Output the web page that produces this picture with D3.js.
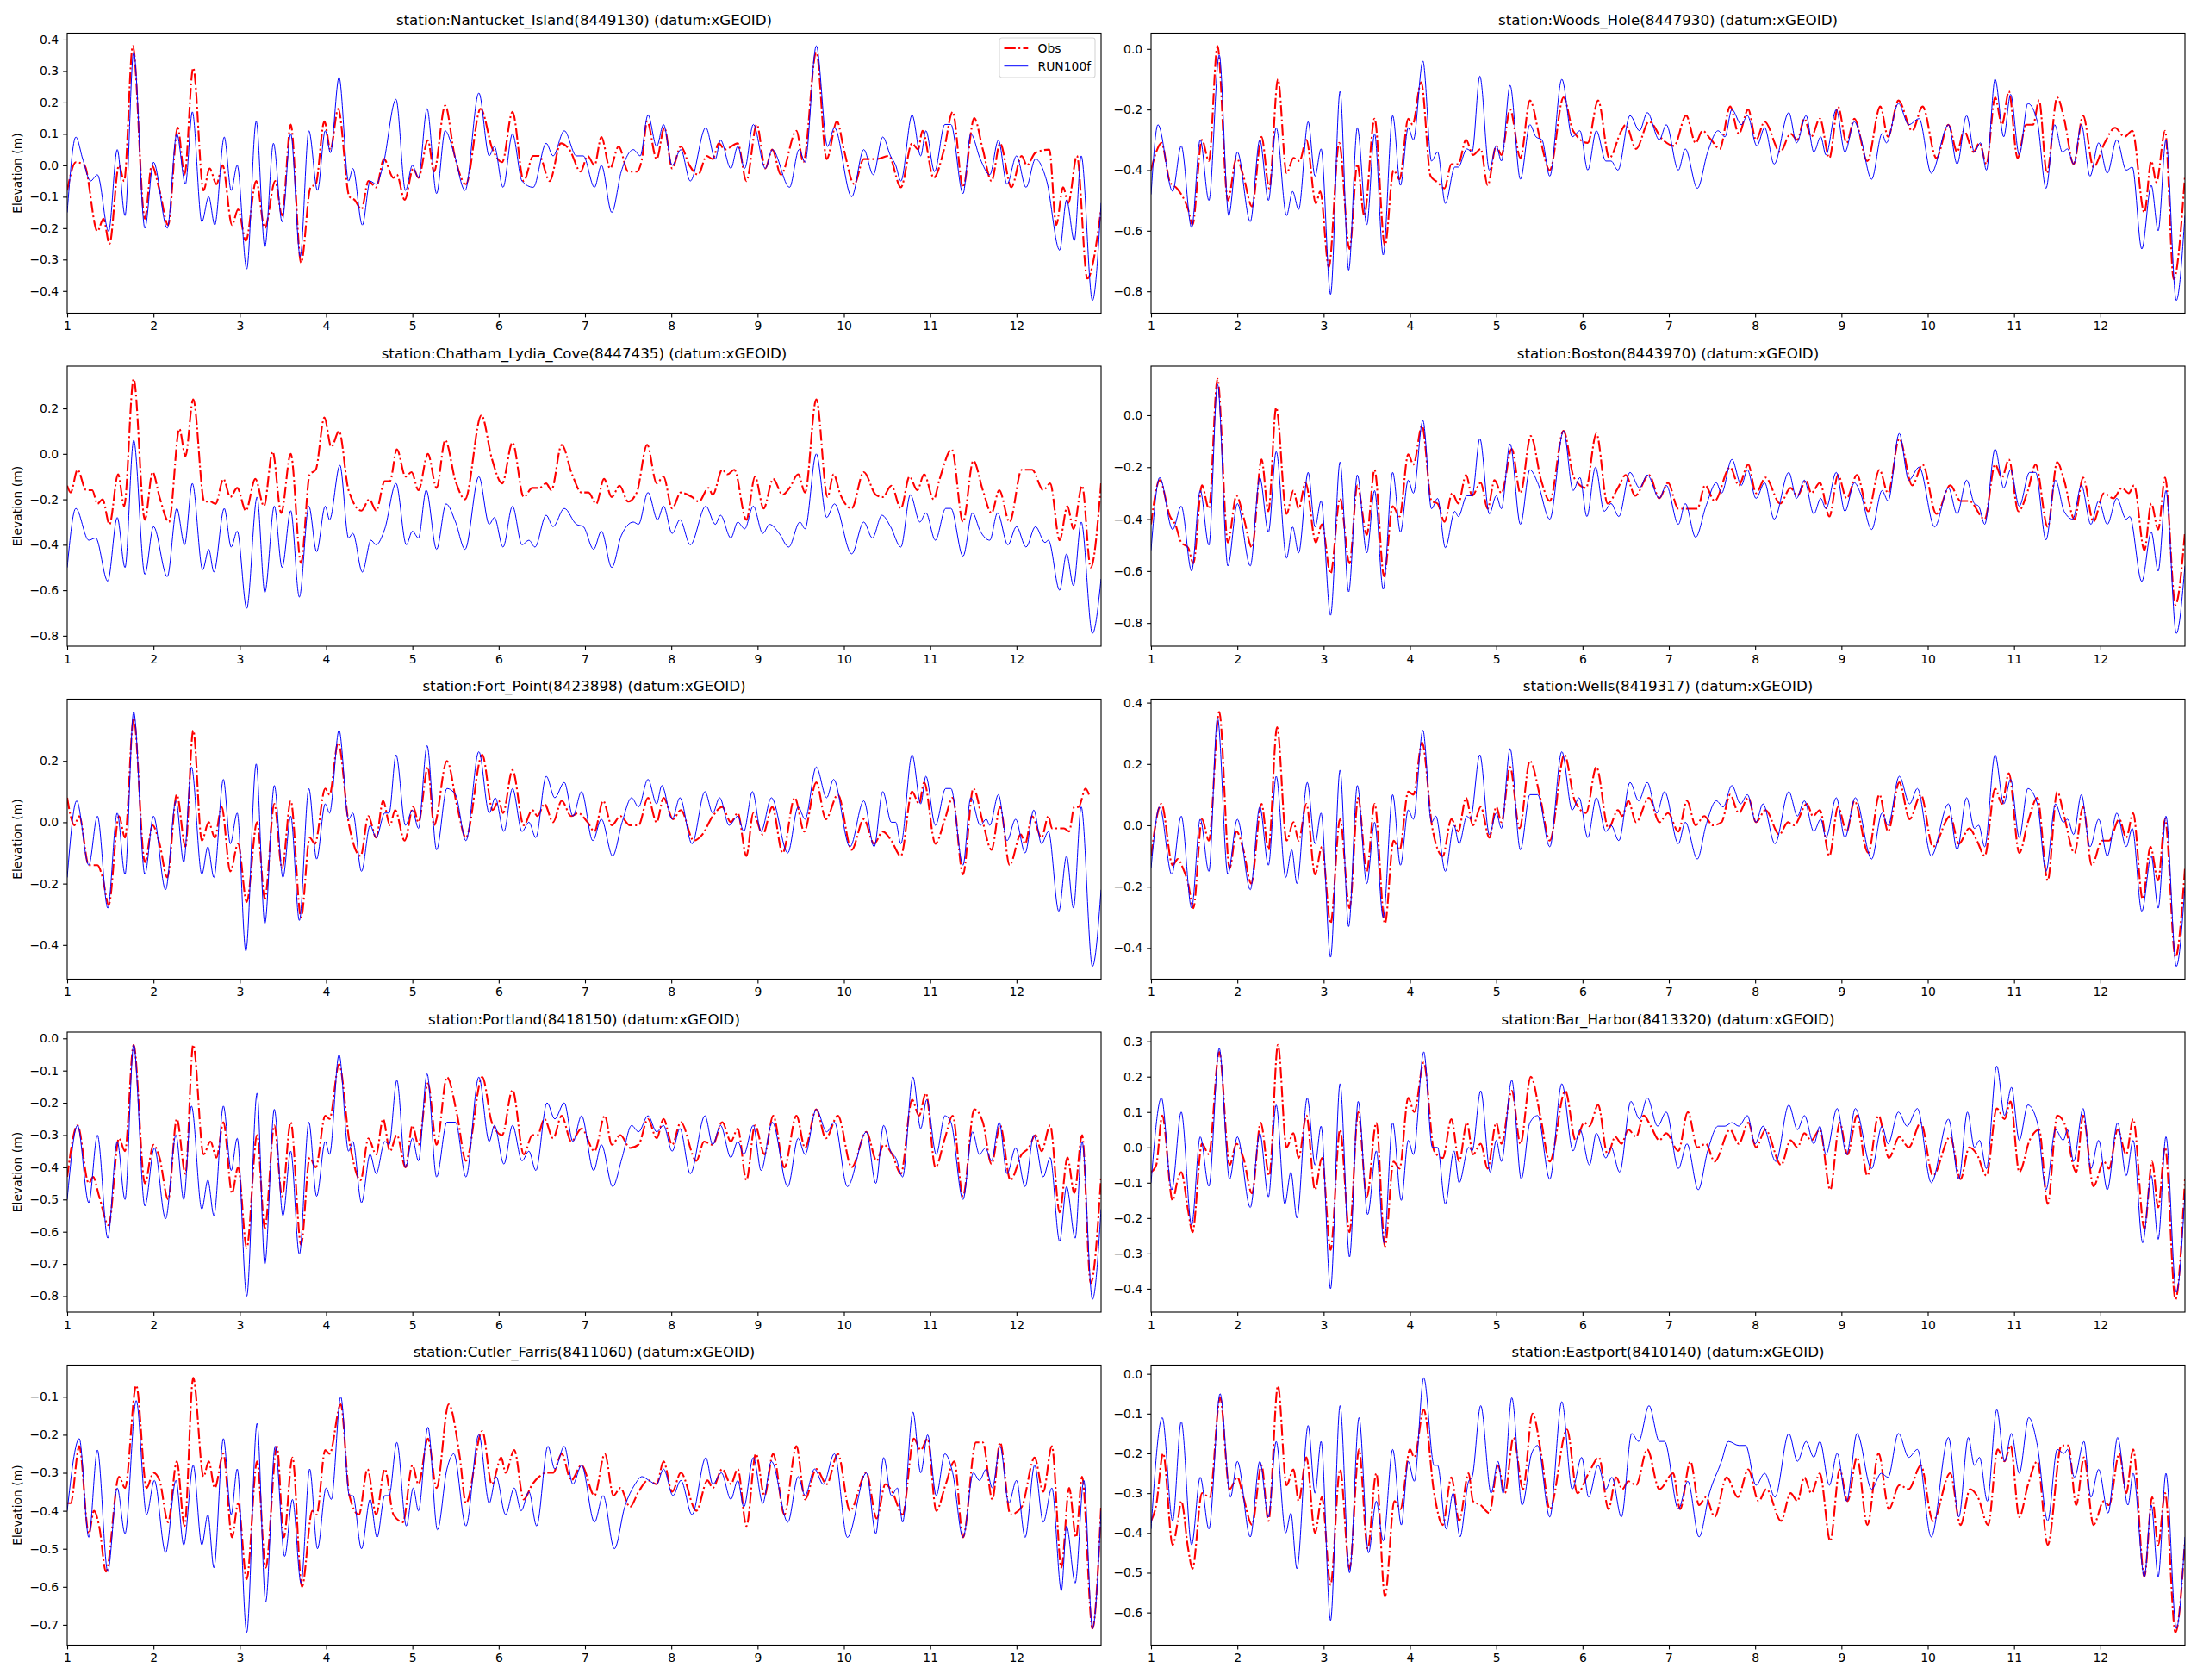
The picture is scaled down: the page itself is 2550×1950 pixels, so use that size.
<!DOCTYPE html>
<html>
<head>
<meta charset="utf-8">
<script src="https://cdn.jsdelivr.net/npm/d3@7"></script>
<style>
  body { margin: 0; background: #fff; }
  text { font-family: "DejaVu Sans", sans-serif; }
</style>
</head>
<body>
<div id="chart"></div>
<script>
//------------------------------- DATA -------------------------------//
// each series: [day, elevation (m)]
const stations = [
  "Nantucket_Island(8449130)", "Woods_Hole(8447930)",
  "Chatham_Lydia_Cove(8447435)", "Boston(8443970)",
  "Fort_Point(8423898)", "Wells(8419317)",
  "Portland(8418150)", "Bar_Harbor(8413320)",
  "Cutler_Farris(8411060)", "Eastport(8410140)"
];
const seriesNames = ["Obs", "RUN100f"];
const xTicks = [1, 2, 3, 4, 5, 6, 7, 8, 9, 10, 11, 12];
const xRange = [1, 12.98];

const yTicks = [
  [-0.4, -0.3, -0.2, -0.1, 0.0, 0.1, 0.2, 0.3, 0.4],
  [-0.8, -0.6, -0.4, -0.2, 0.0],
  [-0.8, -0.6, -0.4, -0.2, 0.0, 0.2],
  [-0.8, -0.6, -0.4, -0.2, 0.0],
  [-0.4, -0.2, 0.0, 0.2],
  [-0.4, -0.2, 0.0, 0.2, 0.4],
  [-0.8, -0.7, -0.6, -0.5, -0.4, -0.3, -0.2, -0.1, 0.0],
  [-0.4, -0.3, -0.2, -0.1, 0.0, 0.1, 0.2, 0.3],
  [-0.7, -0.6, -0.5, -0.4, -0.3, -0.2, -0.1],
  [-0.6, -0.5, -0.4, -0.3, -0.2, -0.1, 0.0]
];

const nantucketObs = [[1.0,-0.08],[1.1,0.01],[1.2,0.0],[1.35,-0.21],[1.42,-0.17],[1.49,-0.25],[1.6,0.0],[1.66,-0.05],[1.76,0.38],[1.9,-0.17],[1.98,0.0],[2.07,-0.08],[2.17,-0.19],[2.28,0.12],[2.36,-0.03],[2.46,0.31],[2.58,-0.08],[2.65,-0.01],[2.73,-0.06],[2.8,0.0],[2.91,-0.19],[2.98,-0.14],[3.07,-0.24],[3.19,-0.05],[3.29,-0.2],[3.41,-0.05],[3.49,-0.16],[3.59,0.13],[3.71,-0.31],[3.82,-0.07],[3.88,-0.06],[3.98,0.14],[4.05,0.05],[4.14,0.18],[4.27,-0.1],[4.33,-0.11],[4.41,-0.14],[4.49,-0.05],[4.58,-0.07],[4.67,0.02],[4.78,-0.04],[4.82,-0.03],[4.91,-0.11],[5.01,-0.01],[5.07,-0.04],[5.18,0.08],[5.25,-0.02],[5.38,0.19],[5.49,0.03],[5.62,-0.06],[5.79,0.18],[5.93,0.05],[6.04,0.01],[6.16,0.17],[6.29,-0.05],[6.4,0.03],[6.47,0.03],[6.59,-0.05],[6.72,0.07],[6.82,0.05],[6.95,-0.02],[7.03,0.03],[7.11,0.0],[7.19,0.09],[7.29,-0.01],[7.39,0.06],[7.5,-0.02],[7.6,-0.02],[7.66,0.02],[7.72,0.14],[7.83,0.02],[7.92,0.12],[8.01,-0.01],[8.11,0.06],[8.21,0.0],[8.31,-0.03],[8.41,0.03],[8.48,0.02],[8.55,0.07],[8.62,0.05],[8.77,0.07],[8.87,-0.05],[8.99,0.13],[9.09,-0.01],[9.17,0.05],[9.27,-0.03],[9.45,0.11],[9.53,0.01],[9.68,0.36],[9.8,0.02],[9.92,0.14],[10.0,0.05],[10.12,-0.06],[10.23,0.02],[10.38,0.02],[10.52,0.03],[10.66,-0.07],[10.79,0.07],[10.86,0.05],[10.91,0.11],[11.04,-0.04],[11.16,0.05],[11.26,0.17],[11.38,-0.07],[11.51,0.15],[11.61,0.05],[11.71,-0.05],[11.81,0.07],[11.94,-0.07],[12.06,0.03],[12.12,0.0],[12.22,0.04],[12.38,0.05],[12.46,-0.19],[12.54,-0.07],[12.6,-0.12],[12.7,0.03],[12.82,-0.36],[12.98,-0.14]];
const nantucketRun = [[1.0,-0.15],[1.1,0.09],[1.18,0.02],[1.27,-0.05],[1.35,-0.03],[1.48,-0.21],[1.58,0.05],[1.67,-0.16],[1.77,0.36],[1.9,-0.2],[2.0,0.01],[2.16,-0.2],[2.27,0.1],[2.37,-0.06],[2.45,0.17],[2.56,-0.18],[2.64,-0.1],[2.71,-0.19],[2.82,0.09],[2.9,-0.08],[2.97,0.0],[3.08,-0.33],[3.19,0.14],[3.29,-0.26],[3.39,0.07],[3.49,-0.18],[3.59,0.1],[3.7,-0.29],[3.8,0.11],[3.9,-0.08],[3.99,0.11],[4.05,0.04],[4.15,0.28],[4.26,-0.05],[4.31,-0.01],[4.42,-0.19],[4.51,-0.05],[4.58,-0.06],[4.66,0.0],[4.81,0.21],[4.92,-0.08],[5.0,0.0],[5.07,-0.04],[5.17,0.18],[5.28,-0.09],[5.38,0.11],[5.48,0.04],[5.61,-0.08],[5.77,0.23],[5.89,0.03],[5.95,0.06],[6.05,-0.07],[6.16,0.1],[6.27,-0.05],[6.4,-0.07],[6.55,0.07],[6.63,0.03],[6.76,0.11],[6.9,0.03],[6.98,0.03],[7.11,-0.07],[7.19,0.0],[7.31,-0.15],[7.42,-0.02],[7.56,0.05],[7.64,0.03],[7.73,0.16],[7.83,0.06],[7.91,0.13],[8.01,0.0],[8.11,0.05],[8.22,-0.05],[8.4,0.12],[8.51,0.02],[8.57,0.08],[8.69,-0.01],[8.77,0.06],[8.85,-0.01],[8.95,0.13],[9.09,-0.01],[9.17,0.05],[9.37,-0.07],[9.48,0.05],[9.55,0.01],[9.68,0.38],[9.81,0.06],[9.89,0.12],[10.09,-0.1],[10.23,0.05],[10.34,-0.03],[10.45,0.09],[10.54,0.03],[10.6,0.0],[10.66,-0.05],[10.79,0.16],[10.89,0.03],[10.95,0.11],[11.05,-0.02],[11.17,0.13],[11.24,0.13],[11.38,-0.09],[11.47,0.1],[11.58,0.02],[11.69,-0.03],[11.79,0.08],[11.89,-0.06],[12.0,0.03],[12.11,-0.07],[12.22,0.02],[12.35,-0.05],[12.5,-0.27],[12.58,-0.11],[12.67,-0.24],[12.75,0.03],[12.88,-0.43],[12.98,-0.12]];

const woodsHoleObs = [[1.0,-0.40],[1.06,-0.34],[1.12,-0.31],[1.22,-0.44],[1.3,-0.46],[1.43,-0.53],[1.48,-0.58],[1.59,-0.30],[1.67,-0.37],[1.77,0.01],[1.89,-0.50],[1.99,-0.36],[2.07,-0.42],[2.17,-0.52],[2.28,-0.29],[2.37,-0.46],[2.47,-0.10],[2.57,-0.41],[2.65,-0.36],[2.72,-0.37],[2.8,-0.30],[2.91,-0.51],[2.96,-0.47],[3.06,-0.72],[3.18,-0.31],[3.3,-0.66],[3.39,-0.38],[3.47,-0.55],[3.59,-0.23],[3.71,-0.65],[3.81,-0.40],[3.88,-0.43],[3.98,-0.23],[4.03,-0.25],[4.13,-0.11],[4.24,-0.42],[4.32,-0.44],[4.4,-0.46],[4.48,-0.38],[4.56,-0.38],[4.65,-0.30],[4.73,-0.35],[4.82,-0.33],[4.9,-0.45],[5.0,-0.32],[5.06,-0.35],[5.16,-0.20],[5.28,-0.36],[5.39,-0.17],[5.51,-0.30],[5.62,-0.40],[5.78,-0.16],[5.89,-0.27],[6.06,-0.31],[6.18,-0.17],[6.31,-0.36],[6.45,-0.27],[6.5,-0.25],[6.62,-0.33],[6.77,-0.24],[6.93,-0.30],[7.06,-0.32],[7.2,-0.22],[7.31,-0.31],[7.39,-0.27],[7.49,-0.30],[7.59,-0.33],[7.71,-0.19],[7.81,-0.28],[7.92,-0.20],[8.01,-0.30],[8.11,-0.24],[8.29,-0.34],[8.41,-0.28],[8.49,-0.30],[8.57,-0.23],[8.65,-0.29],[8.75,-0.23],[8.86,-0.36],[8.96,-0.19],[9.06,-0.31],[9.15,-0.23],[9.3,-0.37],[9.45,-0.19],[9.54,-0.29],[9.66,-0.17],[9.82,-0.27],[9.94,-0.19],[10.1,-0.36],[10.24,-0.25],[10.34,-0.34],[10.42,-0.27],[10.53,-0.34],[10.6,-0.31],[10.68,-0.38],[10.78,-0.16],[10.86,-0.25],[10.94,-0.14],[11.04,-0.36],[11.14,-0.25],[11.22,-0.25],[11.29,-0.17],[11.38,-0.41],[11.5,-0.16],[11.58,-0.23],[11.69,-0.38],[11.8,-0.22],[11.92,-0.39],[12.05,-0.31],[12.17,-0.26],[12.28,-0.29],[12.37,-0.27],[12.51,-0.54],[12.59,-0.37],[12.65,-0.44],[12.75,-0.27],[12.85,-0.76],[12.98,-0.42]];
const woodsHoleRun = [[1.0,-0.48],[1.08,-0.25],[1.25,-0.47],[1.35,-0.32],[1.47,-0.59],[1.57,-0.30],[1.67,-0.50],[1.79,-0.02],[1.9,-0.55],[2.0,-0.34],[2.15,-0.57],[2.26,-0.30],[2.36,-0.50],[2.45,-0.26],[2.57,-0.55],[2.64,-0.47],[2.71,-0.53],[2.82,-0.24],[2.9,-0.42],[2.97,-0.33],[3.08,-0.81],[3.19,-0.14],[3.29,-0.73],[3.39,-0.26],[3.5,-0.58],[3.59,-0.28],[3.69,-0.68],[3.8,-0.22],[3.89,-0.45],[3.98,-0.26],[4.04,-0.30],[4.15,-0.04],[4.25,-0.37],[4.32,-0.34],[4.41,-0.51],[4.52,-0.39],[4.56,-0.39],[4.66,-0.33],[4.72,-0.34],[4.81,-0.09],[4.92,-0.40],[5.0,-0.32],[5.06,-0.37],[5.16,-0.12],[5.28,-0.43],[5.39,-0.25],[5.46,-0.29],[5.53,-0.30],[5.62,-0.42],[5.76,-0.10],[5.88,-0.29],[5.97,-0.27],[6.06,-0.40],[6.16,-0.27],[6.27,-0.37],[6.33,-0.37],[6.41,-0.40],[6.55,-0.22],[6.66,-0.27],[6.75,-0.21],[6.89,-0.30],[6.97,-0.25],[7.11,-0.40],[7.19,-0.33],[7.33,-0.46],[7.45,-0.34],[7.57,-0.27],[7.65,-0.29],[7.73,-0.20],[7.84,-0.25],[7.91,-0.22],[8.02,-0.32],[8.11,-0.26],[8.22,-0.38],[8.39,-0.21],[8.48,-0.31],[8.59,-0.22],[8.68,-0.34],[8.76,-0.29],[8.82,-0.35],[8.94,-0.20],[9.04,-0.34],[9.15,-0.24],[9.22,-0.29],[9.35,-0.43],[9.47,-0.28],[9.52,-0.31],[9.66,-0.18],[9.78,-0.25],[9.9,-0.23],[10.04,-0.41],[10.24,-0.25],[10.34,-0.38],[10.45,-0.22],[10.54,-0.34],[10.61,-0.31],[10.68,-0.40],[10.78,-0.10],[10.88,-0.29],[10.96,-0.15],[11.06,-0.35],[11.16,-0.18],[11.27,-0.24],[11.37,-0.46],[11.47,-0.25],[11.56,-0.34],[11.62,-0.33],[11.69,-0.38],[11.78,-0.25],[11.88,-0.42],[11.98,-0.31],[12.08,-0.41],[12.19,-0.30],[12.3,-0.40],[12.37,-0.39],[12.48,-0.66],[12.59,-0.45],[12.67,-0.60],[12.76,-0.30],[12.88,-0.83],[12.98,-0.55]];

const chathamObs = [[1.0,-0.14],[1.04,-0.17],[1.12,-0.07],[1.22,-0.16],[1.29,-0.16],[1.35,-0.22],[1.41,-0.20],[1.49,-0.31],[1.59,-0.09],[1.66,-0.23],[1.77,0.33],[1.9,-0.29],[1.99,-0.08],[2.07,-0.19],[2.18,-0.30],[2.3,0.11],[2.37,-0.01],[2.46,0.24],[2.59,-0.21],[2.66,-0.21],[2.72,-0.22],[2.81,-0.11],[2.89,-0.19],[2.97,-0.15],[3.07,-0.25],[3.18,-0.11],[3.28,-0.23],[3.38,0.01],[3.48,-0.26],[3.59,0.0],[3.71,-0.48],[3.81,-0.09],[3.88,-0.07],[3.98,0.16],[4.06,0.03],[4.15,0.10],[4.26,-0.16],[4.41,-0.25],[4.5,-0.20],[4.58,-0.25],[4.68,-0.12],[4.74,-0.12],[4.82,0.02],[4.92,-0.10],[4.99,-0.08],[5.07,-0.16],[5.18,0.0],[5.28,-0.15],[5.38,0.06],[5.5,-0.12],[5.61,-0.20],[5.8,0.17],[5.92,-0.02],[6.04,-0.13],[6.16,0.05],[6.29,-0.19],[6.39,-0.15],[6.47,-0.15],[6.55,-0.13],[6.61,-0.16],[6.73,0.04],[6.85,-0.09],[6.96,-0.17],[7.04,-0.17],[7.13,-0.22],[7.22,-0.11],[7.31,-0.19],[7.4,-0.14],[7.5,-0.21],[7.6,-0.17],[7.72,0.04],[7.83,-0.13],[7.91,-0.10],[8.01,-0.24],[8.11,-0.17],[8.24,-0.19],[8.32,-0.21],[8.43,-0.15],[8.48,-0.18],[8.59,-0.07],[8.65,-0.09],[8.73,-0.07],[8.87,-0.29],[8.97,-0.10],[9.07,-0.24],[9.18,-0.11],[9.29,-0.18],[9.37,-0.15],[9.47,-0.09],[9.55,-0.17],[9.68,0.24],[9.81,-0.19],[9.88,-0.09],[9.96,-0.18],[10.09,-0.24],[10.23,-0.08],[10.37,-0.18],[10.45,-0.19],[10.55,-0.14],[10.66,-0.24],[10.76,-0.10],[10.85,-0.16],[10.93,-0.09],[11.04,-0.20],[11.11,-0.11],[11.25,0.02],[11.38,-0.30],[11.5,-0.03],[11.61,-0.16],[11.71,-0.26],[11.8,-0.16],[11.92,-0.30],[12.06,-0.07],[12.18,-0.07],[12.31,-0.16],[12.39,-0.13],[12.5,-0.38],[12.59,-0.23],[12.66,-0.33],[12.76,-0.14],[12.86,-0.50],[12.98,-0.13]];
const chathamRun = [[1.0,-0.50],[1.1,-0.24],[1.25,-0.38],[1.33,-0.37],[1.47,-0.56],[1.58,-0.28],[1.67,-0.50],[1.77,0.06],[1.9,-0.53],[2.0,-0.32],[2.16,-0.54],[2.27,-0.24],[2.36,-0.40],[2.45,-0.13],[2.57,-0.51],[2.64,-0.42],[2.7,-0.52],[2.82,-0.24],[2.9,-0.41],[2.97,-0.34],[3.08,-0.68],[3.2,-0.19],[3.29,-0.61],[3.4,-0.23],[3.49,-0.50],[3.59,-0.25],[3.69,-0.63],[3.8,-0.23],[3.89,-0.43],[3.99,-0.23],[4.04,-0.29],[4.16,-0.05],[4.26,-0.37],[4.31,-0.35],[4.42,-0.52],[4.52,-0.38],[4.58,-0.40],[4.68,-0.33],[4.81,-0.13],[4.93,-0.40],[5.0,-0.34],[5.07,-0.37],[5.16,-0.16],[5.28,-0.42],[5.39,-0.22],[5.5,-0.30],[5.61,-0.42],[5.77,-0.10],[5.89,-0.31],[5.95,-0.28],[6.05,-0.41],[6.16,-0.23],[6.27,-0.40],[6.35,-0.38],[6.42,-0.41],[6.55,-0.27],[6.63,-0.32],[6.76,-0.24],[6.9,-0.31],[6.98,-0.32],[7.1,-0.42],[7.19,-0.34],[7.31,-0.50],[7.42,-0.36],[7.56,-0.30],[7.62,-0.31],[7.73,-0.17],[7.84,-0.29],[7.91,-0.23],[8.01,-0.35],[8.1,-0.29],[8.22,-0.40],[8.4,-0.23],[8.51,-0.31],[8.57,-0.27],[8.69,-0.37],[8.77,-0.30],[8.85,-0.33],[8.95,-0.23],[9.06,-0.35],[9.14,-0.31],[9.25,-0.35],[9.36,-0.41],[9.49,-0.30],[9.55,-0.33],[9.68,0.0],[9.8,-0.28],[9.89,-0.22],[10.09,-0.44],[10.23,-0.30],[10.33,-0.37],[10.44,-0.27],[10.54,-0.32],[10.66,-0.41],[10.77,-0.18],[10.88,-0.30],[10.95,-0.26],[11.06,-0.38],[11.18,-0.24],[11.24,-0.24],[11.38,-0.45],[11.49,-0.26],[11.58,-0.34],[11.69,-0.38],[11.78,-0.26],[11.9,-0.40],[12.0,-0.32],[12.11,-0.41],[12.22,-0.32],[12.33,-0.39],[12.37,-0.38],[12.5,-0.60],[12.58,-0.44],[12.66,-0.58],[12.75,-0.30],[12.88,-0.79],[12.98,-0.55]];

const bostonObs = [[1.0,-0.42],[1.1,-0.25],[1.22,-0.39],[1.28,-0.42],[1.35,-0.49],[1.43,-0.51],[1.49,-0.57],[1.59,-0.27],[1.67,-0.36],[1.77,0.14],[1.89,-0.49],[1.99,-0.31],[2.07,-0.39],[2.17,-0.51],[2.28,-0.17],[2.36,-0.37],[2.45,0.03],[2.57,-0.38],[2.65,-0.29],[2.71,-0.36],[2.79,-0.26],[2.91,-0.49],[2.98,-0.42],[3.08,-0.61],[3.19,-0.32],[3.3,-0.57],[3.39,-0.27],[3.5,-0.46],[3.59,-0.21],[3.7,-0.62],[3.8,-0.35],[3.88,-0.39],[3.98,-0.15],[4.04,-0.19],[4.14,-0.04],[4.25,-0.33],[4.32,-0.34],[4.4,-0.41],[4.49,-0.30],[4.56,-0.34],[4.65,-0.23],[4.72,-0.31],[4.82,-0.26],[4.9,-0.36],[4.98,-0.25],[5.06,-0.30],[5.18,-0.13],[5.28,-0.30],[5.4,-0.08],[5.52,-0.25],[5.62,-0.33],[5.78,-0.06],[5.9,-0.24],[6.04,-0.28],[6.16,-0.07],[6.29,-0.34],[6.41,-0.28],[6.5,-0.23],[6.61,-0.31],[6.77,-0.23],[6.89,-0.32],[6.99,-0.26],[7.11,-0.36],[7.33,-0.36],[7.42,-0.27],[7.53,-0.33],[7.71,-0.20],[7.81,-0.27],[7.92,-0.19],[8.01,-0.30],[8.12,-0.24],[8.29,-0.34],[8.41,-0.28],[8.49,-0.31],[8.59,-0.25],[8.65,-0.30],[8.75,-0.26],[8.86,-0.39],[8.96,-0.23],[9.06,-0.32],[9.18,-0.23],[9.31,-0.37],[9.44,-0.21],[9.54,-0.30],[9.67,-0.09],[9.82,-0.27],[9.94,-0.19],[10.1,-0.38],[10.26,-0.27],[10.38,-0.33],[10.48,-0.33],[10.66,-0.40],[10.78,-0.19],[10.86,-0.24],[10.94,-0.17],[11.05,-0.37],[11.16,-0.29],[11.25,-0.19],[11.39,-0.43],[11.5,-0.18],[11.58,-0.25],[11.7,-0.40],[11.8,-0.24],[11.92,-0.41],[12.04,-0.30],[12.15,-0.32],[12.25,-0.28],[12.33,-0.30],[12.39,-0.27],[12.51,-0.52],[12.59,-0.34],[12.67,-0.44],[12.75,-0.24],[12.87,-0.73],[12.98,-0.45]];
const bostonRun = [[1.0,-0.52],[1.1,-0.24],[1.25,-0.44],[1.35,-0.35],[1.47,-0.60],[1.57,-0.29],[1.67,-0.50],[1.77,0.12],[1.89,-0.58],[2.0,-0.34],[2.15,-0.58],[2.26,-0.24],[2.36,-0.45],[2.45,-0.14],[2.57,-0.55],[2.64,-0.43],[2.71,-0.53],[2.82,-0.22],[2.9,-0.43],[2.97,-0.33],[3.08,-0.77],[3.19,-0.18],[3.29,-0.68],[3.39,-0.23],[3.5,-0.53],[3.59,-0.29],[3.69,-0.67],[3.8,-0.22],[3.89,-0.45],[3.98,-0.25],[4.04,-0.30],[4.15,-0.02],[4.25,-0.36],[4.32,-0.32],[4.41,-0.51],[4.52,-0.37],[4.56,-0.39],[4.66,-0.31],[4.72,-0.31],[4.81,-0.09],[4.92,-0.38],[5.0,-0.31],[5.06,-0.36],[5.16,-0.11],[5.28,-0.42],[5.39,-0.21],[5.48,-0.26],[5.62,-0.40],[5.78,-0.06],[5.89,-0.29],[5.97,-0.24],[6.05,-0.39],[6.15,-0.20],[6.25,-0.37],[6.33,-0.34],[6.42,-0.39],[6.55,-0.22],[6.66,-0.28],[6.75,-0.23],[6.89,-0.32],[6.97,-0.27],[7.11,-0.42],[7.19,-0.34],[7.31,-0.47],[7.43,-0.35],[7.55,-0.26],[7.61,-0.30],[7.73,-0.17],[7.84,-0.27],[7.91,-0.21],[8.01,-0.32],[8.11,-0.26],[8.22,-0.40],[8.39,-0.22],[8.48,-0.32],[8.57,-0.25],[8.68,-0.38],[8.76,-0.32],[8.82,-0.36],[8.94,-0.22],[9.04,-0.37],[9.15,-0.26],[9.22,-0.30],[9.35,-0.44],[9.47,-0.29],[9.54,-0.33],[9.67,-0.07],[9.78,-0.25],[9.9,-0.20],[10.08,-0.43],[10.24,-0.28],[10.34,-0.38],[10.45,-0.25],[10.54,-0.34],[10.59,-0.35],[10.66,-0.42],[10.78,-0.13],[10.88,-0.28],[10.96,-0.21],[11.06,-0.35],[11.18,-0.22],[11.25,-0.22],[11.37,-0.48],[11.48,-0.25],[11.58,-0.37],[11.68,-0.40],[11.78,-0.27],[11.89,-0.42],[11.98,-0.33],[12.08,-0.42],[12.19,-0.32],[12.3,-0.40],[12.34,-0.39],[12.48,-0.64],[12.59,-0.45],[12.67,-0.60],[12.76,-0.29],[12.88,-0.84],[12.98,-0.58]];

const fortPointObs = [[1.0,0.08],[1.04,0.02],[1.08,-0.01],[1.14,0.02],[1.25,-0.14],[1.35,-0.14],[1.41,-0.18],[1.48,-0.27],[1.6,0.02],[1.67,-0.05],[1.77,0.34],[1.9,-0.13],[1.99,-0.01],[2.07,-0.07],[2.16,-0.18],[2.27,0.09],[2.37,-0.08],[2.46,0.30],[2.56,-0.06],[2.64,0.0],[2.71,-0.05],[2.79,0.05],[2.89,-0.16],[2.98,-0.07],[3.08,-0.26],[3.2,0.0],[3.29,-0.25],[3.4,0.06],[3.49,-0.15],[3.59,0.07],[3.71,-0.31],[3.81,-0.05],[3.87,-0.07],[3.99,0.11],[4.04,0.09],[4.14,0.26],[4.26,0.0],[4.4,-0.11],[4.49,0.02],[4.58,-0.05],[4.66,0.07],[4.74,-0.01],[4.8,0.04],[4.91,-0.06],[5.01,0.05],[5.07,0.0],[5.18,0.18],[5.25,-0.01],[5.4,0.20],[5.52,0.05],[5.62,-0.05],[5.81,0.22],[5.93,0.04],[6.0,0.07],[6.05,0.03],[6.16,0.17],[6.29,-0.01],[6.39,0.04],[6.45,0.02],[6.53,0.06],[6.63,0.0],[6.73,0.07],[6.84,0.02],[6.92,0.03],[7.03,0.0],[7.11,-0.03],[7.21,0.07],[7.31,-0.01],[7.41,0.02],[7.52,-0.01],[7.62,-0.01],[7.73,0.08],[7.83,0.0],[7.91,0.08],[8.02,0.01],[8.11,0.04],[8.26,-0.06],[8.36,-0.04],[8.48,0.02],[8.59,0.05],[8.69,0.0],[8.77,0.03],[8.87,-0.11],[8.95,0.03],[9.06,-0.04],[9.17,0.05],[9.29,-0.10],[9.43,0.08],[9.54,-0.03],[9.68,0.13],[9.79,0.01],[9.93,0.09],[10.09,-0.09],[10.23,0.01],[10.35,-0.07],[10.45,-0.03],[10.55,-0.06],[10.66,-0.11],[10.79,0.10],[10.87,0.06],[10.93,0.13],[11.06,-0.07],[11.17,0.01],[11.26,0.08],[11.38,-0.17],[11.5,0.11],[11.61,0.0],[11.71,-0.09],[11.81,0.05],[11.92,-0.14],[12.05,-0.04],[12.1,-0.07],[12.18,0.02],[12.29,-0.05],[12.37,0.02],[12.41,-0.02],[12.55,-0.02],[12.61,-0.03],[12.67,0.05],[12.72,0.05],[12.8,0.11],[12.84,0.09]];
const fortPointRun = [[1.0,-0.18],[1.11,0.07],[1.25,-0.14],[1.35,0.02],[1.47,-0.28],[1.58,0.03],[1.67,-0.17],[1.77,0.36],[1.9,-0.17],[2.0,0.02],[2.14,-0.22],[2.26,0.07],[2.35,-0.13],[2.44,0.18],[2.56,-0.17],[2.63,-0.08],[2.7,-0.18],[2.81,0.14],[2.89,-0.07],[2.97,0.03],[3.07,-0.42],[3.19,0.19],[3.29,-0.33],[3.4,0.12],[3.5,-0.18],[3.59,0.02],[3.69,-0.32],[3.8,0.11],[3.89,-0.12],[3.99,0.06],[4.04,0.03],[4.15,0.30],[4.26,0.01],[4.31,0.03],[4.41,-0.16],[4.51,-0.01],[4.58,-0.05],[4.68,0.03],[4.73,0.03],[4.81,0.22],[4.92,-0.01],[5.0,0.04],[5.07,-0.02],[5.17,0.25],[5.28,-0.09],[5.4,0.11],[5.5,0.09],[5.62,-0.06],[5.77,0.23],[5.89,0.03],[5.96,0.08],[6.06,-0.03],[6.16,0.11],[6.27,-0.03],[6.35,0.0],[6.43,-0.05],[6.55,0.15],[6.65,0.08],[6.76,0.13],[6.86,0.02],[6.96,0.10],[7.09,-0.06],[7.19,0.01],[7.32,-0.11],[7.43,0.0],[7.54,0.08],[7.62,0.05],[7.73,0.14],[7.83,0.06],[7.89,0.12],[8.01,0.01],[8.1,0.08],[8.24,-0.07],[8.39,0.10],[8.48,0.03],[8.56,0.08],[8.67,-0.01],[8.77,0.02],[8.84,-0.03],[8.94,0.10],[9.04,-0.03],[9.16,0.08],[9.35,-0.10],[9.47,0.05],[9.55,0.01],[9.68,0.18],[9.8,0.08],[9.88,0.14],[10.07,-0.08],[10.23,0.07],[10.35,-0.08],[10.45,0.10],[10.55,0.0],[10.6,0.0],[10.66,-0.07],[10.79,0.22],[10.89,0.06],[10.95,0.15],[11.06,-0.01],[11.18,0.11],[11.24,0.11],[11.38,-0.14],[11.47,0.08],[11.58,-0.01],[11.65,0.01],[11.69,-0.01],[11.79,0.09],[11.89,-0.06],[11.99,0.01],[12.1,-0.10],[12.2,0.04],[12.29,-0.07],[12.37,-0.03],[12.49,-0.29],[12.58,-0.11],[12.66,-0.28],[12.75,0.05],[12.88,-0.47],[12.98,-0.22]];

const wellsObs = [[1.0,-0.10],[1.12,0.07],[1.25,-0.13],[1.31,-0.11],[1.37,-0.14],[1.43,-0.19],[1.49,-0.27],[1.59,0.02],[1.67,-0.05],[1.79,0.37],[1.91,-0.14],[1.99,-0.02],[2.07,-0.08],[2.16,-0.19],[2.28,0.07],[2.36,-0.08],[2.46,0.32],[2.57,-0.05],[2.65,0.01],[2.71,-0.05],[2.8,0.07],[2.9,-0.16],[2.98,-0.07],[3.08,-0.32],[3.19,0.02],[3.3,-0.27],[3.4,0.09],[3.5,-0.15],[3.59,0.07],[3.71,-0.32],[3.81,-0.05],[3.88,-0.08],[3.98,0.11],[4.04,0.10],[4.14,0.27],[4.26,-0.01],[4.38,-0.10],[4.48,0.02],[4.56,-0.02],[4.65,0.09],[4.73,0.0],[4.82,0.06],[4.92,-0.04],[5.0,0.06],[5.06,0.01],[5.16,0.19],[5.27,-0.01],[5.39,0.21],[5.51,0.09],[5.62,-0.05],[5.79,0.23],[5.91,0.08],[6.04,0.04],[6.16,0.19],[6.3,-0.01],[6.41,0.05],[6.46,0.03],[6.53,0.08],[6.62,0.01],[6.77,0.09],[6.89,0.01],[6.99,0.04],[7.11,-0.02],[7.21,0.08],[7.31,0.0],[7.41,0.03],[7.51,0.0],[7.61,0.01],[7.71,0.10],[7.81,0.04],[7.92,0.09],[8.01,0.01],[8.12,0.05],[8.28,-0.03],[8.38,0.01],[8.45,0.0],[8.6,0.07],[8.67,0.03],[8.75,0.05],[8.86,-0.10],[8.96,0.06],[9.06,-0.02],[9.15,0.08],[9.31,-0.09],[9.44,0.10],[9.54,-0.02],[9.67,0.14],[9.79,0.02],[9.92,0.10],[10.06,-0.07],[10.26,0.03],[10.36,-0.06],[10.48,-0.01],[10.57,-0.05],[10.66,-0.10],[10.78,0.12],[10.86,0.07],[10.94,0.17],[11.06,-0.09],[11.16,0.01],[11.27,0.09],[11.39,-0.18],[11.5,0.11],[11.58,0.03],[11.7,-0.09],[11.8,0.06],[11.9,-0.13],[12.02,-0.05],[12.1,-0.05],[12.22,0.02],[12.3,-0.04],[12.38,0.04],[12.49,-0.24],[12.58,-0.07],[12.67,-0.18],[12.75,0.02],[12.87,-0.43],[12.98,-0.14]];
const wellsRun = [[1.0,-0.14],[1.1,0.06],[1.24,-0.16],[1.35,0.03],[1.47,-0.27],[1.57,0.02],[1.67,-0.15],[1.77,0.35],[1.89,-0.16],[2.0,0.02],[2.15,-0.21],[2.26,0.06],[2.36,-0.13],[2.45,0.16],[2.56,-0.17],[2.63,-0.08],[2.69,-0.19],[2.81,0.14],[2.9,-0.06],[2.97,0.04],[3.08,-0.43],[3.19,0.18],[3.29,-0.33],[3.39,0.13],[3.5,-0.19],[3.59,0.01],[3.69,-0.30],[3.8,0.10],[3.89,-0.13],[3.98,0.05],[4.04,0.02],[4.15,0.31],[4.25,0.01],[4.3,0.03],[4.41,-0.15],[4.51,0.0],[4.57,-0.06],[4.66,0.03],[4.7,0.02],[4.81,0.23],[4.92,-0.03],[5.0,0.04],[5.06,-0.01],[5.16,0.25],[5.28,-0.08],[5.39,0.10],[5.48,0.10],[5.62,-0.07],[5.76,0.24],[5.88,0.05],[5.96,0.09],[6.06,-0.04],[6.16,0.09],[6.27,-0.02],[6.33,0.0],[6.42,-0.05],[6.55,0.14],[6.65,0.08],[6.75,0.14],[6.86,0.04],[6.95,0.11],[7.11,-0.06],[7.19,0.01],[7.33,-0.11],[7.43,0.0],[7.55,0.08],[7.63,0.06],[7.73,0.13],[7.83,0.07],[7.91,0.10],[8.01,0.01],[8.09,0.07],[8.23,-0.06],[8.39,0.11],[8.49,0.03],[8.57,0.08],[8.68,-0.02],[8.76,0.02],[8.82,-0.04],[8.94,0.09],[9.04,-0.04],[9.16,0.09],[9.35,-0.11],[9.47,0.04],[9.54,0.0],[9.67,0.16],[9.79,0.07],[9.88,0.12],[10.04,-0.10],[10.24,0.07],[10.34,-0.08],[10.45,0.09],[10.54,-0.01],[10.59,0.0],[10.66,-0.07],[10.78,0.23],[10.88,0.07],[10.96,0.15],[11.06,-0.04],[11.16,0.12],[11.27,0.07],[11.37,-0.15],[11.48,0.07],[11.57,0.01],[11.62,0.02],[11.69,-0.03],[11.78,0.10],[11.88,-0.07],[11.98,0.02],[12.08,-0.10],[12.19,0.04],[12.3,-0.07],[12.37,-0.01],[12.48,-0.28],[12.59,-0.10],[12.67,-0.27],[12.76,0.03],[12.88,-0.46],[12.98,-0.20]];

const portlandObs = [[1.0,-0.43],[1.12,-0.27],[1.25,-0.45],[1.3,-0.43],[1.37,-0.49],[1.48,-0.58],[1.6,-0.31],[1.67,-0.35],[1.77,-0.02],[1.9,-0.45],[2.0,-0.33],[2.07,-0.37],[2.17,-0.50],[2.27,-0.25],[2.37,-0.42],[2.46,-0.02],[2.58,-0.36],[2.66,-0.32],[2.73,-0.37],[2.81,-0.26],[2.91,-0.48],[2.98,-0.40],[3.08,-0.65],[3.2,-0.30],[3.29,-0.59],[3.4,-0.27],[3.49,-0.49],[3.59,-0.26],[3.71,-0.64],[3.81,-0.37],[3.88,-0.40],[3.99,-0.24],[4.04,-0.25],[4.15,-0.08],[4.27,-0.32],[4.4,-0.44],[4.49,-0.31],[4.58,-0.36],[4.66,-0.25],[4.74,-0.35],[4.82,-0.30],[4.92,-0.40],[5.0,-0.27],[5.07,-0.33],[5.18,-0.14],[5.28,-0.33],[5.4,-0.12],[5.52,-0.24],[5.62,-0.38],[5.81,-0.12],[5.92,-0.26],[6.04,-0.30],[6.16,-0.16],[6.29,-0.36],[6.39,-0.30],[6.45,-0.30],[6.53,-0.25],[6.63,-0.31],[6.73,-0.24],[6.84,-0.32],[6.96,-0.28],[7.11,-0.35],[7.23,-0.24],[7.31,-0.33],[7.41,-0.30],[7.52,-0.34],[7.62,-0.33],[7.73,-0.25],[7.83,-0.31],[7.91,-0.25],[8.01,-0.33],[8.11,-0.26],[8.29,-0.38],[8.38,-0.32],[8.48,-0.33],[8.59,-0.26],[8.69,-0.32],[8.77,-0.28],[8.87,-0.44],[8.97,-0.27],[9.08,-0.36],[9.18,-0.24],[9.31,-0.40],[9.45,-0.24],[9.55,-0.34],[9.68,-0.22],[9.79,-0.31],[9.93,-0.24],[10.09,-0.40],[10.26,-0.29],[10.38,-0.38],[10.46,-0.33],[10.56,-0.36],[10.66,-0.42],[10.79,-0.19],[10.87,-0.24],[10.95,-0.17],[11.06,-0.40],[11.17,-0.31],[11.26,-0.24],[11.38,-0.49],[11.51,-0.22],[11.61,-0.26],[11.71,-0.39],[11.81,-0.27],[11.93,-0.44],[12.06,-0.36],[12.14,-0.34],[12.22,-0.30],[12.29,-0.35],[12.39,-0.27],[12.5,-0.54],[12.59,-0.37],[12.67,-0.48],[12.76,-0.30],[12.86,-0.76],[12.98,-0.43]];
const portlandRun = [[1.0,-0.50],[1.12,-0.27],[1.25,-0.51],[1.35,-0.30],[1.47,-0.62],[1.58,-0.32],[1.67,-0.50],[1.77,-0.02],[1.9,-0.52],[2.01,-0.34],[2.14,-0.56],[2.26,-0.30],[2.35,-0.50],[2.44,-0.21],[2.56,-0.53],[2.63,-0.44],[2.7,-0.55],[2.81,-0.21],[2.9,-0.41],[2.97,-0.31],[3.08,-0.80],[3.2,-0.17],[3.29,-0.70],[3.4,-0.22],[3.5,-0.55],[3.59,-0.35],[3.69,-0.67],[3.8,-0.26],[3.89,-0.49],[3.99,-0.32],[4.04,-0.36],[4.15,-0.05],[4.26,-0.35],[4.31,-0.32],[4.41,-0.51],[4.51,-0.36],[4.58,-0.42],[4.68,-0.32],[4.73,-0.33],[4.82,-0.13],[4.92,-0.40],[5.0,-0.31],[5.07,-0.38],[5.17,-0.11],[5.28,-0.43],[5.4,-0.26],[5.5,-0.26],[5.62,-0.43],[5.77,-0.12],[5.89,-0.32],[5.95,-0.27],[6.06,-0.39],[6.16,-0.27],[6.27,-0.38],[6.35,-0.35],[6.43,-0.41],[6.56,-0.20],[6.65,-0.25],[6.76,-0.20],[6.86,-0.32],[6.96,-0.24],[7.1,-0.41],[7.19,-0.33],[7.32,-0.46],[7.43,-0.37],[7.54,-0.27],[7.62,-0.29],[7.73,-0.24],[7.83,-0.29],[7.91,-0.27],[8.01,-0.35],[8.1,-0.28],[8.22,-0.42],[8.39,-0.24],[8.48,-0.33],[8.57,-0.27],[8.69,-0.37],[8.77,-0.32],[8.84,-0.36],[8.95,-0.27],[9.04,-0.41],[9.17,-0.26],[9.35,-0.46],[9.47,-0.31],[9.55,-0.36],[9.68,-0.22],[9.8,-0.29],[9.89,-0.26],[10.04,-0.46],[10.26,-0.29],[10.37,-0.45],[10.46,-0.27],[10.54,-0.35],[10.6,-0.37],[10.68,-0.43],[10.8,-0.12],[10.89,-0.28],[10.96,-0.19],[11.07,-0.36],[11.17,-0.24],[11.24,-0.26],[11.38,-0.50],[11.49,-0.29],[11.57,-0.36],[11.64,-0.34],[11.71,-0.38],[11.8,-0.26],[11.89,-0.42],[11.99,-0.34],[12.1,-0.46],[12.2,-0.30],[12.31,-0.43],[12.39,-0.37],[12.5,-0.63],[12.58,-0.46],[12.68,-0.62],[12.76,-0.32],[12.88,-0.81],[12.98,-0.53]];

const barHarborObs = [[1.0,-0.07],[1.06,-0.05],[1.13,0.09],[1.25,-0.15],[1.31,-0.09],[1.35,-0.07],[1.43,-0.18],[1.48,-0.24],[1.59,0.01],[1.67,-0.02],[1.79,0.27],[1.91,-0.05],[1.99,0.01],[2.07,-0.03],[2.17,-0.13],[2.27,0.07],[2.37,-0.08],[2.47,0.29],[2.57,0.0],[2.65,0.04],[2.71,-0.03],[2.8,0.09],[2.9,-0.12],[2.98,-0.03],[3.08,-0.29],[3.19,0.05],[3.3,-0.24],[3.4,0.10],[3.5,-0.14],[3.61,0.07],[3.71,-0.28],[3.81,-0.04],[3.88,-0.06],[3.98,0.14],[4.05,0.10],[4.16,0.24],[4.28,-0.01],[4.38,-0.03],[4.48,0.08],[4.57,-0.04],[4.66,0.07],[4.73,-0.02],[4.82,0.01],[4.9,-0.06],[5.0,0.07],[5.06,0.01],[5.18,0.16],[5.28,0.01],[5.4,0.20],[5.51,0.09],[5.62,-0.04],[5.8,0.16],[5.92,0.02],[6.02,0.07],[6.08,0.06],[6.18,0.12],[6.29,-0.02],[6.38,0.03],[6.45,0.01],[6.53,0.05],[6.62,0.03],[6.71,0.09],[6.79,0.06],[6.89,0.02],[6.97,0.04],[7.11,-0.01],[7.22,0.10],[7.33,0.0],[7.43,0.01],[7.53,-0.04],[7.71,0.05],[7.81,0.01],[7.92,0.07],[8.01,0.0],[8.12,0.05],[8.3,-0.05],[8.41,0.02],[8.49,0.0],[8.57,0.04],[8.65,0.02],[8.75,0.05],[8.87,-0.12],[8.98,0.07],[9.07,-0.02],[9.18,0.09],[9.3,-0.08],[9.43,0.09],[9.55,-0.03],[9.67,0.03],[9.78,0.0],[9.92,0.07],[10.06,-0.08],[10.26,0.03],[10.38,-0.09],[10.48,0.0],[10.57,-0.02],[10.68,-0.08],[10.8,0.11],[10.89,0.08],[10.96,0.13],[11.06,-0.07],[11.18,0.02],[11.29,0.05],[11.39,-0.16],[11.5,0.09],[11.58,0.07],[11.72,-0.07],[11.8,0.09],[11.92,-0.11],[12.04,-0.04],[12.1,-0.06],[12.2,0.05],[12.3,-0.02],[12.38,0.08],[12.51,-0.23],[12.6,-0.04],[12.67,-0.17],[12.75,0.0],[12.87,-0.43],[12.98,-0.09]];
const barHarborRun = [[1.0,-0.10],[1.12,0.14],[1.24,-0.12],[1.35,0.10],[1.47,-0.22],[1.57,0.03],[1.67,-0.11],[1.79,0.28],[1.91,-0.09],[2.0,0.03],[2.15,-0.17],[2.26,0.04],[2.36,-0.14],[2.45,0.12],[2.55,-0.16],[2.62,-0.07],[2.69,-0.20],[2.81,0.14],[2.9,-0.05],[2.97,0.06],[3.08,-0.40],[3.19,0.18],[3.3,-0.31],[3.4,0.13],[3.51,-0.19],[3.61,-0.01],[3.7,-0.27],[3.8,0.07],[3.9,-0.15],[3.98,0.02],[4.04,-0.02],[4.16,0.27],[4.26,0.0],[4.32,0.0],[4.41,-0.16],[4.51,-0.01],[4.57,-0.10],[4.68,0.0],[4.72,-0.01],[4.82,0.16],[4.93,-0.07],[5.0,0.02],[5.06,-0.04],[5.18,0.19],[5.29,-0.09],[5.39,0.07],[5.48,0.09],[5.62,-0.09],[5.76,0.18],[5.89,-0.01],[5.97,0.05],[6.08,-0.05],[6.16,0.04],[6.27,-0.03],[6.33,0.0],[6.43,-0.07],[6.56,0.13],[6.66,0.08],[6.75,0.14],[6.87,0.06],[6.97,0.10],[7.11,-0.06],[7.21,0.01],[7.34,-0.12],[7.45,-0.01],[7.57,0.06],[7.65,0.06],[7.73,0.07],[7.81,0.06],[7.91,0.09],[8.0,0.01],[8.09,0.06],[8.24,-0.04],[8.39,0.12],[8.49,0.05],[8.57,0.09],[8.68,0.01],[8.75,0.06],[8.82,-0.02],[8.95,0.11],[9.06,-0.02],[9.16,0.11],[9.35,-0.06],[9.47,0.06],[9.54,0.01],[9.66,0.10],[9.76,0.06],[9.88,0.11],[10.04,-0.10],[10.24,0.08],[10.36,-0.09],[10.46,0.10],[10.54,0.0],[10.6,0.02],[10.68,-0.06],[10.8,0.23],[10.89,0.09],[10.97,0.17],[11.06,0.02],[11.16,0.12],[11.27,0.07],[11.37,-0.12],[11.48,0.05],[11.57,0.02],[11.62,0.05],[11.69,-0.04],[11.8,0.11],[11.89,-0.06],[11.98,0.02],[12.08,-0.12],[12.2,0.07],[12.3,-0.08],[12.38,0.02],[12.49,-0.27],[12.59,-0.08],[12.67,-0.26],[12.76,0.03],[12.88,-0.41],[12.98,-0.13]];

const cutlerObs = [[1.0,-0.38],[1.04,-0.38],[1.14,-0.23],[1.25,-0.46],[1.31,-0.40],[1.37,-0.44],[1.45,-0.56],[1.6,-0.31],[1.67,-0.34],[1.8,-0.07],[1.92,-0.34],[2.0,-0.30],[2.07,-0.32],[2.17,-0.43],[2.27,-0.27],[2.36,-0.44],[2.46,-0.05],[2.58,-0.31],[2.64,-0.27],[2.71,-0.34],[2.81,-0.25],[2.91,-0.47],[2.98,-0.38],[3.08,-0.58],[3.2,-0.27],[3.3,-0.55],[3.43,-0.23],[3.51,-0.47],[3.61,-0.26],[3.72,-0.60],[3.84,-0.40],[3.89,-0.41],[3.99,-0.24],[4.04,-0.25],[4.17,-0.12],[4.27,-0.36],[4.38,-0.41],[4.48,-0.29],[4.58,-0.41],[4.68,-0.29],[4.78,-0.41],[4.89,-0.43],[5.0,-0.28],[5.07,-0.33],[5.18,-0.21],[5.28,-0.34],[5.42,-0.12],[5.55,-0.26],[5.62,-0.38],[5.81,-0.19],[5.92,-0.33],[6.03,-0.26],[6.08,-0.30],[6.18,-0.24],[6.29,-0.37],[6.39,-0.33],[6.47,-0.31],[6.55,-0.30],[6.63,-0.30],[6.73,-0.25],[6.84,-0.32],[6.96,-0.28],[7.11,-0.36],[7.23,-0.25],[7.33,-0.36],[7.41,-0.34],[7.52,-0.39],[7.62,-0.35],[7.73,-0.32],[7.83,-0.33],[7.91,-0.27],[8.01,-0.35],[8.11,-0.30],[8.29,-0.40],[8.42,-0.32],[8.48,-0.34],[8.59,-0.29],[8.69,-0.33],[8.77,-0.29],[8.87,-0.44],[8.98,-0.25],[9.08,-0.36],[9.18,-0.25],[9.31,-0.41],[9.45,-0.23],[9.55,-0.37],[9.68,-0.29],[9.8,-0.33],[9.93,-0.25],[10.07,-0.40],[10.26,-0.30],[10.38,-0.42],[10.48,-0.33],[10.56,-0.35],[10.68,-0.41],[10.81,-0.21],[10.89,-0.24],[10.97,-0.21],[11.07,-0.40],[11.18,-0.33],[11.28,-0.27],[11.38,-0.47],[11.53,-0.22],[11.61,-0.22],[11.72,-0.37],[11.81,-0.22],[11.93,-0.41],[12.06,-0.39],[12.21,-0.26],[12.31,-0.35],[12.41,-0.23],[12.52,-0.55],[12.61,-0.34],[12.69,-0.47],[12.76,-0.31],[12.88,-0.71],[12.98,-0.39]];
const cutlerRun = [[1.0,-0.40],[1.14,-0.21],[1.25,-0.47],[1.35,-0.24],[1.47,-0.56],[1.58,-0.34],[1.67,-0.46],[1.8,-0.11],[1.92,-0.41],[2.01,-0.32],[2.14,-0.51],[2.26,-0.32],[2.35,-0.49],[2.46,-0.28],[2.56,-0.49],[2.63,-0.41],[2.7,-0.55],[2.81,-0.21],[2.9,-0.41],[2.97,-0.29],[3.08,-0.72],[3.2,-0.17],[3.3,-0.64],[3.41,-0.23],[3.52,-0.52],[3.61,-0.37],[3.71,-0.59],[3.81,-0.29],[3.9,-0.50],[4.0,-0.34],[4.06,-0.37],[4.17,-0.10],[4.27,-0.36],[4.31,-0.36],[4.41,-0.50],[4.51,-0.37],[4.59,-0.47],[4.68,-0.36],[4.73,-0.36],[4.82,-0.22],[4.93,-0.44],[5.01,-0.34],[5.07,-0.40],[5.18,-0.18],[5.29,-0.45],[5.4,-0.29],[5.48,-0.25],[5.62,-0.44],[5.77,-0.20],[5.89,-0.38],[5.97,-0.31],[6.08,-0.41],[6.18,-0.34],[6.26,-0.40],[6.35,-0.35],[6.44,-0.44],[6.57,-0.23],[6.65,-0.29],[6.76,-0.23],[6.86,-0.33],[6.96,-0.28],[7.11,-0.43],[7.21,-0.36],[7.34,-0.50],[7.46,-0.39],[7.58,-0.33],[7.66,-0.31],[7.74,-0.32],[7.83,-0.33],[7.91,-0.29],[8.02,-0.36],[8.11,-0.32],[8.24,-0.41],[8.4,-0.26],[8.48,-0.33],[8.58,-0.30],[8.69,-0.37],[8.77,-0.32],[8.84,-0.39],[8.95,-0.26],[9.06,-0.38],[9.16,-0.27],[9.35,-0.43],[9.47,-0.31],[9.55,-0.36],[9.66,-0.29],[9.76,-0.33],[9.89,-0.25],[10.04,-0.47],[10.26,-0.30],[10.37,-0.46],[10.46,-0.26],[10.55,-0.36],[10.62,-0.34],[10.68,-0.43],[10.8,-0.14],[10.89,-0.30],[10.97,-0.20],[11.07,-0.36],[11.17,-0.25],[11.26,-0.30],[11.38,-0.47],[11.5,-0.30],[11.57,-0.32],[11.65,-0.29],[11.72,-0.34],[11.81,-0.23],[11.91,-0.38],[12.0,-0.32],[12.1,-0.47],[12.21,-0.28],[12.31,-0.43],[12.41,-0.34],[12.52,-0.61],[12.58,-0.44],[12.68,-0.59],[12.78,-0.32],[12.88,-0.71],[12.98,-0.40]];

const eastportObs = [[1.0,-0.37],[1.06,-0.33],[1.14,-0.20],[1.25,-0.43],[1.31,-0.37],[1.35,-0.32],[1.43,-0.44],[1.48,-0.49],[1.59,-0.30],[1.68,-0.31],[1.8,-0.06],[1.91,-0.29],[2.0,-0.26],[2.07,-0.31],[2.17,-0.38],[2.28,-0.23],[2.36,-0.37],[2.47,-0.03],[2.57,-0.28],[2.65,-0.24],[2.71,-0.32],[2.8,-0.21],[2.9,-0.40],[2.98,-0.31],[3.08,-0.53],[3.19,-0.24],[3.3,-0.49],[3.41,-0.19],[3.51,-0.44],[3.61,-0.25],[3.71,-0.56],[3.82,-0.32],[3.89,-0.34],[4.0,-0.19],[4.05,-0.21],[4.16,-0.09],[4.28,-0.30],[4.38,-0.38],[4.48,-0.26],[4.57,-0.37],[4.68,-0.25],[4.73,-0.32],[4.82,-0.33],[4.92,-0.35],[5.02,-0.23],[5.1,-0.30],[5.2,-0.16],[5.31,-0.29],[5.42,-0.10],[5.52,-0.20],[5.62,-0.34],[5.82,-0.14],[5.94,-0.30],[6.07,-0.25],[6.19,-0.21],[6.3,-0.34],[6.39,-0.26],[6.46,-0.29],[6.53,-0.27],[6.62,-0.28],[6.75,-0.19],[6.89,-0.29],[7.05,-0.25],[7.13,-0.34],[7.25,-0.22],[7.35,-0.33],[7.43,-0.31],[7.53,-0.36],[7.67,-0.26],[7.8,-0.31],[7.92,-0.24],[8.04,-0.32],[8.13,-0.29],[8.3,-0.37],[8.41,-0.30],[8.49,-0.32],[8.57,-0.26],[8.65,-0.30],[8.75,-0.25],[8.87,-0.42],[8.98,-0.24],[9.07,-0.32],[9.18,-0.21],[9.3,-0.38],[9.43,-0.20],[9.55,-0.34],[9.67,-0.28],[9.78,-0.29],[9.92,-0.23],[10.06,-0.37],[10.26,-0.25],[10.38,-0.38],[10.49,-0.29],[10.58,-0.31],[10.7,-0.38],[10.81,-0.19],[10.89,-0.22],[10.96,-0.18],[11.06,-0.36],[11.16,-0.28],[11.27,-0.22],[11.39,-0.43],[11.55,-0.18],[11.63,-0.18],[11.72,-0.33],[11.81,-0.21],[11.92,-0.38],[12.04,-0.32],[12.1,-0.33],[12.22,-0.20],[12.3,-0.30],[12.38,-0.19],[12.51,-0.51],[12.6,-0.31],[12.67,-0.43],[12.75,-0.30],[12.87,-0.65],[12.98,-0.42]];
const eastportRun = [[1.0,-0.39],[1.13,-0.11],[1.25,-0.37],[1.35,-0.12],[1.47,-0.43],[1.57,-0.26],[1.67,-0.39],[1.8,-0.05],[1.92,-0.31],[2.0,-0.22],[2.15,-0.41],[2.26,-0.22],[2.36,-0.36],[2.45,-0.17],[2.56,-0.40],[2.62,-0.35],[2.69,-0.49],[2.82,-0.13],[2.9,-0.30],[2.97,-0.17],[3.08,-0.62],[3.19,-0.08],[3.3,-0.50],[3.41,-0.11],[3.52,-0.45],[3.61,-0.32],[3.69,-0.42],[3.8,-0.19],[3.9,-0.38],[3.98,-0.22],[4.05,-0.27],[4.16,-0.01],[4.28,-0.23],[4.32,-0.23],[4.42,-0.39],[4.5,-0.30],[4.58,-0.41],[4.68,-0.27],[4.72,-0.26],[4.82,-0.08],[4.94,-0.30],[5.02,-0.22],[5.08,-0.30],[5.18,-0.06],[5.3,-0.33],[5.41,-0.20],[5.48,-0.18],[5.62,-0.36],[5.76,-0.07],[5.88,-0.29],[5.99,-0.21],[6.07,-0.31],[6.18,-0.23],[6.27,-0.29],[6.34,-0.26],[6.45,-0.36],[6.57,-0.15],[6.65,-0.17],[6.77,-0.08],[6.89,-0.17],[6.95,-0.17],[7.11,-0.34],[7.22,-0.27],[7.35,-0.41],[7.47,-0.30],[7.61,-0.22],[7.69,-0.17],[7.81,-0.18],[7.89,-0.18],[8.01,-0.28],[8.11,-0.25],[8.23,-0.31],[8.39,-0.15],[8.49,-0.22],[8.59,-0.17],[8.68,-0.21],[8.75,-0.17],[8.86,-0.28],[8.95,-0.20],[9.06,-0.32],[9.18,-0.15],[9.35,-0.29],[9.46,-0.25],[9.54,-0.26],[9.66,-0.15],[9.78,-0.21],[9.88,-0.19],[10.04,-0.41],[10.24,-0.16],[10.36,-0.36],[10.47,-0.16],[10.54,-0.23],[10.6,-0.21],[10.69,-0.32],[10.8,-0.09],[10.89,-0.22],[10.97,-0.15],[11.06,-0.25],[11.17,-0.11],[11.27,-0.18],[11.39,-0.37],[11.5,-0.19],[11.58,-0.20],[11.62,-0.19],[11.7,-0.26],[11.81,-0.17],[11.89,-0.31],[11.98,-0.24],[12.09,-0.35],[12.2,-0.16],[12.32,-0.33],[12.38,-0.25],[12.51,-0.51],[12.59,-0.33],[12.67,-0.51],[12.76,-0.25],[12.88,-0.64],[12.98,-0.41]];

const obsSeries = [nantucketObs, woodsHoleObs, chathamObs, bostonObs, fortPointObs,
                   wellsObs, portlandObs, barHarborObs, cutlerObs, eastportObs];
const runSeries = [nantucketRun, woodsHoleRun, chathamRun, bostonRun, fortPointRun,
                   wellsRun, portlandRun, barHarborRun, cutlerRun, eastportRun];

//------------------------------- LAYOUT -----------------------------//
const width = 2550, height = 1950;
const colLeft = [78, 1336];
const axW = 1200, axH = 325;
const rowTop = 38.5, rowStep = 386.5;
const tickFont = 13.9, titleFont = 16.7;
const obsColor = "#ff0000", runColor = "#0000ff";

const svg = d3.select("#chart").append("svg")
  .attr("width", width)
  .attr("height", height)
  .style("display", "block");

svg.append("rect").attr("width", width).attr("height", height).attr("fill", "#fff");

const fmt = d3.format(".1f");

stations.forEach(function(name, i) {
  const col = i % 2, row = Math.floor(i / 2);
  const left = colLeft[col], top = rowTop + row * rowStep;
  const obs = obsSeries[i], run = runSeries[i];

  // y limits like matplotlib autoscale (5% margin)
  const allY = obs.concat(run).map(d => d[1]);
  const lo = d3.min(allY), hi = d3.max(allY), pad = (hi - lo) * 0.05;

  const x = d3.scaleLinear().domain(xRange).range([0, axW]);
  const y = d3.scaleLinear().domain([lo - pad, hi + pad]).range([axH, 0]);

  const g = svg.append("g").attr("transform", "translate(" + left + "," + top + ")");

  const clipId = "clip" + i;
  g.append("clipPath").attr("id", clipId)
    .append("rect").attr("width", axW).attr("height", axH);

  const line = d3.line()
    .x(d => x(d[0]))
    .y(d => y(d[1]))
    .curve(d3.curveMonotoneX);

  const plot = g.append("g").attr("clip-path", "url(#" + clipId + ")");

  plot.append("path")
    .datum(obs)
    .attr("d", line)
    .attr("fill", "none")
    .attr("stroke", obsColor)
    .attr("stroke-width", 2.1)
    .attr("stroke-dasharray", "13.3,3.3,2.1,3.3");

  plot.append("path")
    .datum(run)
    .attr("d", line)
    .attr("fill", "none")
    .attr("stroke", runColor)
    .attr("stroke-width", 1.0);

  // axes
  const xAxis = g.append("g")
    .attr("transform", "translate(0," + axH + ")")
    .call(d3.axisBottom(x).tickValues(xTicks).tickSize(4.9).tickPadding(4.9).tickFormat(d3.format("d")));

  const yAxis = g.append("g")
    .call(d3.axisLeft(y).tickValues(yTicks[i]).tickSize(4.9).tickPadding(4.9).tickFormat(d => fmt(d)));

  [xAxis, yAxis].forEach(function(a) {
    a.attr("font-family", "DejaVu Sans").attr("font-size", tickFont);
    a.select(".domain").remove();
    a.selectAll(".tick line").attr("stroke", "#000").attr("stroke-width", 1.1);
    a.selectAll(".tick text").attr("fill", "#000");
  });

  // frame
  g.append("rect")
    .attr("width", axW).attr("height", axH)
    .attr("fill", "none")
    .attr("stroke", "#000")
    .attr("stroke-width", 1.1);

  // title
  g.append("text")
    .attr("x", axW / 2)
    .attr("y", -9.5)
    .attr("text-anchor", "middle")
    .attr("font-size", titleFont)
    .attr("fill", "#000")
    .text("station:" + name + " (datum:xGEOID)");

  // y label on left column
  if (col === 0) {
    g.append("text")
      .attr("transform", "translate(" + (19.5 - left) + "," + (axH / 2) + ") rotate(-90)")
      .attr("text-anchor", "middle")
      .attr("dominant-baseline", "central")
      .attr("font-size", tickFont)
      .attr("fill", "#000")
      .text("Elevation (m)");
  }

  // legend on first panel
  if (i === 0) {
    const lw = 111, lh = 46;
    const lg = g.append("g").attr("transform", "translate(" + (axW - 7 - lw) + ",5.5)");
    lg.append("rect")
      .attr("width", lw).attr("height", lh)
      .attr("rx", 2.8).attr("ry", 2.8)
      .attr("fill", "#fff").attr("fill-opacity", 0.8)
      .attr("stroke", "#d6d6d6").attr("stroke-width", 1.1);

    const items = [
      { label: seriesNames[0], color: obsColor, w: 2.1, dash: "13.3,3.3,2.1,3.3" },
      { label: seriesNames[1], color: runColor, w: 1.0, dash: null }
    ];
    items.forEach(function(it, k) {
      const cy = 12 + k * 20.7;
      lg.append("line")
        .attr("x1", 5.5).attr("x2", 33.3)
        .attr("y1", cy).attr("y2", cy)
        .attr("stroke", it.color)
        .attr("stroke-width", it.w)
        .attr("stroke-dasharray", it.dash);
      lg.append("text")
        .attr("x", 44.5).attr("y", cy)
        .attr("dominant-baseline", "central")
        .attr("font-size", tickFont)
        .attr("fill", "#000")
        .text(it.label);
    });
  }
});
</script>
</body>
</html>
